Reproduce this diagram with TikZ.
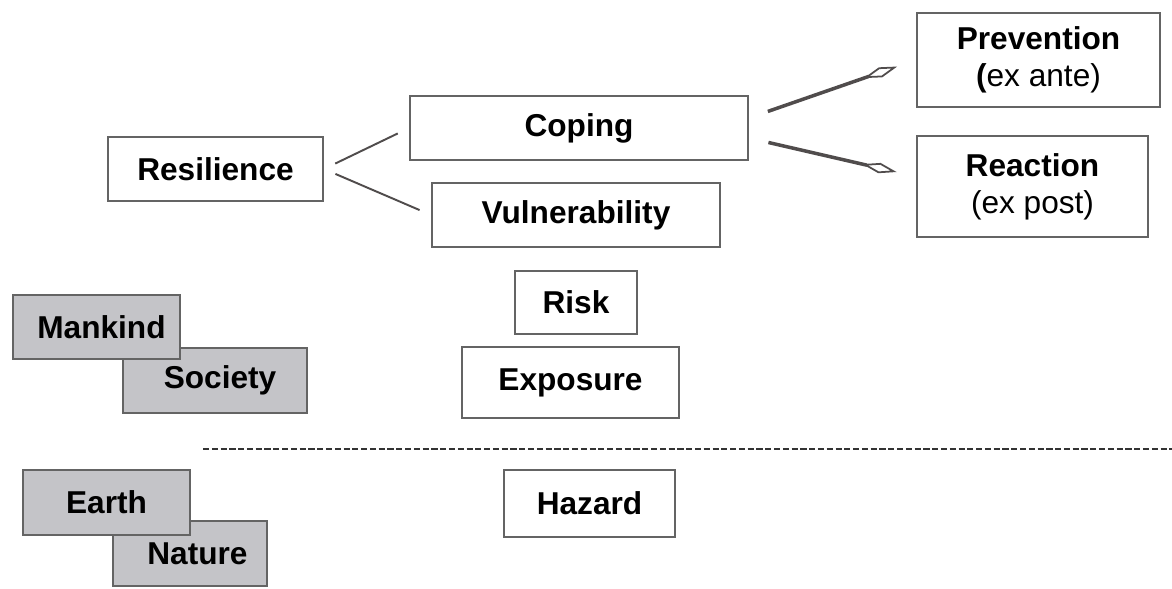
\documentclass[tikz,border=0pt]{standalone}
\usepackage{fontspec}
\setmainfont{Liberation Sans}
\usetikzlibrary{arrows.meta,positioning}
\definecolor{boxline}{RGB}{100,100,100}
\definecolor{boxgray}{RGB}{196,196,200}
\definecolor{arrgray}{RGB}{80,76,76}

\begin{document}
\begin{tikzpicture}[x=0.02cm, y=-0.02cm,
    blk/.style={draw=boxline, line width=1.1pt, fill=white, align=center, inner sep=0pt, font=\fontsize{18}{21}\selectfont\bfseries},
    gry/.style={blk, fill=boxgray},
    lnk/.style={draw=arrgray, line width=1.1pt, shorten <=0.25cm, shorten >=0.25cm},
    arr/.style={draw=arrgray, line width=2pt, shorten <=0.4cm, shorten >=0.4cm, -{Kite[open, length=20pt, width=6pt, inset=10pt, line width=1pt]}},
    sep/.style={draw=black!80, line width=1.5pt, dash pattern=on 3.5pt off 1.5pt}
]
\useasboundingbox (0,0) rectangle (1172,588);

% right branch
\node[blk, minimum width=4.86cm, minimum height=1.88cm] (prev) at (1038.5,60) {Prevention\\(\mdseries ex ante)};
\node[blk, minimum width=4.62cm, minimum height=2.02cm] (react) at (1032.5,186.5) {Reaction\\\mdseries(ex post)};

% middle column
\node[blk, minimum width=6.76cm, minimum height=1.28cm] (cop) at (579,128) {Coping};
\node[blk, minimum width=4.30cm, minimum height=1.28cm] (res) at (215.5,169) {Resilience};
\node[blk, minimum width=5.76cm, minimum height=1.28cm] (vul) at (576,215) {Vulnerability};
\node[blk, minimum width=2.44cm, minimum height=1.26cm] (risk) at (576,302.5) {Risk};
\node[blk, minimum width=4.34cm, minimum height=1.42cm] (expo) at (570.5,382.5) {Exposure};
\node[blk, minimum width=3.42cm, minimum height=1.34cm] (haz) at (589.5,503.5) {Hazard};

% grey pairs
\node[gry, minimum width=3.68cm, minimum height=1.30cm] (soc) at (215,380.5) {\hspace{0.2cm}Society};
\node[gry, minimum width=3.34cm, minimum height=1.28cm] (man) at (96.5,327) {\hspace{0.2cm}Mankind};
\node[gry, minimum width=3.08cm, minimum height=1.30cm] (nat) at (190,553.5) {\hspace{0.3cm}Nature};
\node[gry, minimum width=3.34cm, minimum height=1.30cm] (earth) at (106.5,502.5) {Earth};

\draw[lnk] (res.east) -- (cop.west);
\draw[lnk] (res.east) -- (vul.west);
\draw[arr] ([yshift=0.2cm]cop.east) -- (prev.west);
\draw[arr] ([yshift=-0.2cm]cop.east) -- ([yshift=0.2cm]react.west);

\coordinate (sepl) at (203,449);
\coordinate (sepr) at (1172,449);
\draw[sep] (sepl) -- (sepr);
\end{tikzpicture}
\end{document}
